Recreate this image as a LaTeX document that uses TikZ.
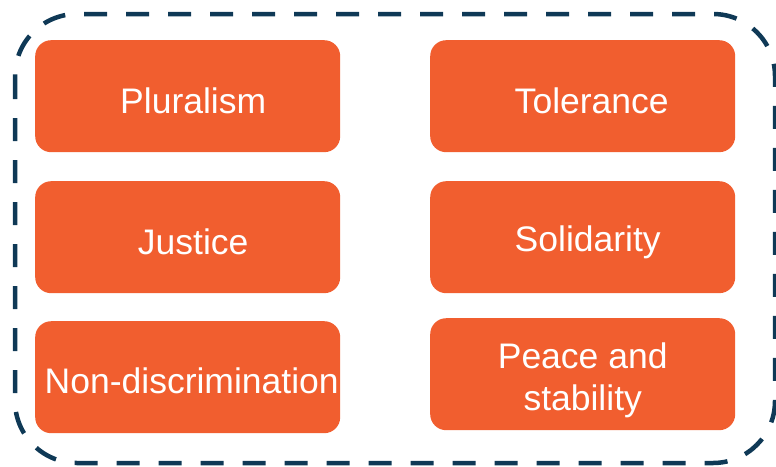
\documentclass[tikz,border=0pt]{standalone}
\usepackage{fontspec}
\setmainfont{Liberation Sans}
\definecolor{boxorange}{HTML}{F15E2F}
\definecolor{navy}{HTML}{0F3956}
\begin{document}
\begin{tikzpicture}[x=1pt,y=-1pt,
  valbox/.style={draw=none,fill=boxorange,rounded corners=16pt,minimum width=305pt,minimum height=112pt,
    inner sep=0pt,anchor=north west},
  valtext/.style={text=white,font=\fontsize{35.5}{42}\selectfont,align=center,inner sep=0pt},
  frame/.style={draw=navy,line width=4.5pt,dash pattern=on 23pt off 19pt,rounded corners=62pt}]
\useasboundingbox (0,0) rectangle (776,466);
\draw[frame] (15,14) rectangle (775,463);
\node[valbox] (plur) at (35,40) {};
\node[valbox] (tol) at (430,40) {};
\node[valbox] (just) at (35,181) {};
\node[valbox] (soli) at (430,181) {};
\node[valbox] (nond) at (35,321) {};
\node[valbox] (peace) at (430,318) {};
\node[valtext] (plurt) at ([xshift=5.5pt,yshift=-5pt]plur.center) {Pluralism};
\node[valtext] (tolt) at ([xshift=9pt,yshift=-5pt]tol.center) {Tolerance};
\node[valtext] (justt) at ([xshift=5.5pt,yshift=-5pt]just.center) {Justice};
\node[valtext] (solit) at ([xshift=5pt,yshift=-5pt]soli.center) {Solidarity};
\node[valtext] (nondt) at ([xshift=4pt,yshift=-4pt]nond.center) {Non-discrimination};
\node[valtext] (peacet) at ([yshift=-6pt]peace.center) {Peace and\\stability};
\end{tikzpicture}
\end{document}
